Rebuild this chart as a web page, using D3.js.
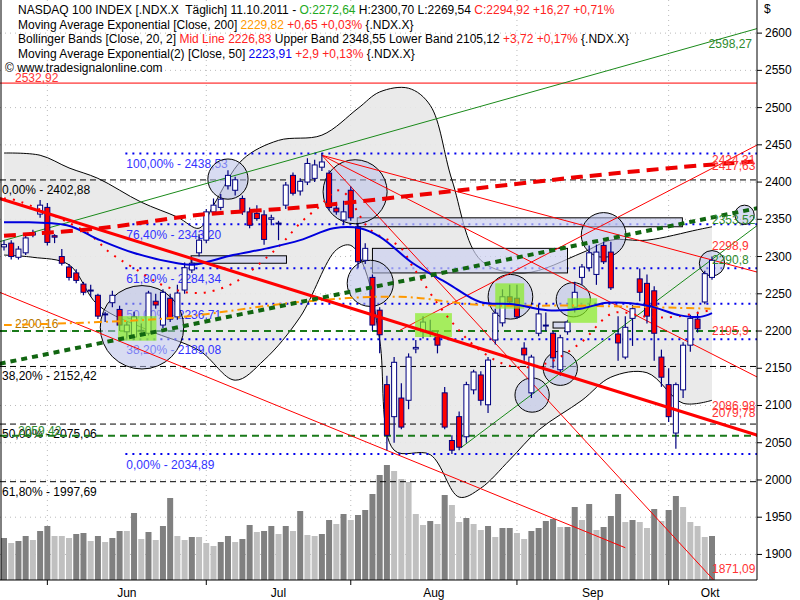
<!DOCTYPE html>
<html lang="en">
<head>
<meta charset="UTF-8">
<title>NASDAQ 100</title>
<script src="https://cdn.jsdelivr.net/npm/d3@7"></script>
<style>
  body { margin: 0; background: #fff; }
  text { font-family: "Liberation Sans", Arial, sans-serif; font-size: 12px; white-space: pre; }
</style>
</head>
<body>
<div id="chart"></div>
<script>
// daily candles, 23.05.2011 - 11.10.2011
const opens  = [2313,2318,2299,2305,2329,2357,2366,2328,2300,2286,2278,2263,2255,2248,2222,2238,2229,2199,2192,2200,2197,2240,2208,2244,2219,2255,2282,2305,2322,2360,2366,2395,2389,2378,2360,2358,2356,2350,2345,2369,2409,2388,2400,2405,2420,2412,2365,2349,2389,2340,2295,2272,2228,2128,2085,2110,2107,2176,2199,2199,2195,2117,2053,2085,2058,2121,2141,2101,2188,2211,2246,2244,2177,2117,2197,2207,2197,2148,2199,2232,2272,2285,2276,2315,2306,2196,2165,2217,2270,2264,2254,2165,2128,2063,2121,2181,2216,2239,2272];
const highs  = [2322,2322,2314,2330,2336,2376,2372,2330,2310,2290,2283,2266,2262,2250,2226,2254,2234,2212,2226,2210,2254,2250,2256,2250,2262,2292,2296,2330,2364,2378,2384,2416,2407,2382,2366,2369,2362,2356,2348,2400,2413,2405,2432,2430,2439,2416,2372,2375,2394,2344,2318,2276,2232,2140,2165,2130,2170,2188,2220,2215,2200,2125,2060,2092,2132,2148,2146,2165,2230,2256,2262,2262,2185,2168,2236,2225,2200,2195,2215,2266,2290,2315,2316,2320,2320,2220,2220,2235,2284,2276,2260,2175,2150,2131,2185,2222,2226,2281,2300];
const lows   = [2308,2296,2296,2302,2326,2352,2315,2318,2288,2268,2264,2248,2246,2216,2212,2232,2200,2190,2188,2195,2194,2230,2204,2212,2215,2250,2278,2300,2318,2356,2362,2390,2382,2356,2338,2348,2316,2342,2322,2364,2382,2382,2396,2400,2415,2362,2356,2344,2348,2285,2290,2200,2170,2040,2050,2068,2095,2170,2190,2192,2170,2068,2035,2040,2050,2115,2100,2090,2182,2206,2235,2216,2160,2110,2193,2200,2150,2140,2195,2225,2262,2280,2262,2290,2255,2160,2162,2180,2240,2210,2160,2125,2078,2042,2110,2172,2198,2236,2269];
const closes = [2316,2300,2310,2325,2332,2369,2319,2326,2291,2272,2268,2252,2254,2220,2223,2248,2208,2208,2219,2201,2251,2235,2252,2216,2251,2285,2291,2322,2360,2369,2377,2409,2403,2360,2342,2351,2323,2352,2344,2396,2385,2401,2425,2423,2427,2366,2360,2360,2352,2293,2311,2208,2195,2060,2158,2071,2165,2178,2212,2200,2181,2071,2040,2044,2128,2145,2107,2161,2224,2246,2239,2219,2168,2165,2223,2208,2164,2191,2212,2252,2286,2305,2306,2293,2258,2184,2205,2230,2252,2220,2197,2138,2085,2128,2181,2217,2203,2277,2295];
const volumes = [42,37,39,44,40,49,54,44,44,42,46,47,39,44,38,42,49,49,67,41,48,40,54,82,44,40,43,43,37,34,38,44,38,41,55,48,49,54,46,54,49,69,45,44,46,60,56,66,60,65,70,86,105,115,109,101,98,66,55,59,56,85,75,58,62,56,50,54,43,52,52,47,41,49,52,59,61,53,53,73,60,76,50,53,64,86,58,60,58,52,71,59,70,84,73,58,54,43,44];
const volumeDark = "DLDDLDDLLLDDLDLDDLDLDLDDLLDLLLDDLDDLDDLDLDLLDDLDLDDDDDLLLLLDLDLLDLLDLDDLLDDDDLDDLDLDDDLDLLDLDDLLLLD";

// months: index of first trading day
const monthNames = ["Jun", "Jul", "Aug", "Sep", "Okt"];
const monthStart = [6, 28, 48, 71, 92];
const monthEnd = 103.5;

const yTicks = [1900,1950,2000,2050,2100,2150,2200,2250,2300,2350,2400,2450,2500,2550,2600];

// indicators, read at [index, price]
const bbUpper = [[0,2439],[5,2436],[9,2419],[13,2405],[19,2373],[24,2353],[27,2338],[29,2369],[33,2430],[38,2456],[44,2463],[49,2499],[52,2521],[56,2526],[59,2503],[62,2403],[66,2295],[72,2278],[80,2305],[84,2322],[89,2322],[96,2336],[98,2340]];
const bbLower = [[0,2302],[4,2299],[9,2289],[13,2235],[20,2201],[27,2174],[32,2134],[36,2161],[41,2219],[46,2309],[48,2315],[50,2282],[52,2188],[54,2040],[59,2034],[63,1977],[66,1989],[70,2027],[74,2067],[80,2107],[84,2138],[89,2144],[94,2103],[98,2107]];
const bbMid = [[0,2378],[1.5,2376],[11.5,2332],[14.7,2305],[17.9,2285],[22.6,2259],[27.1,2251],[31.7,2264],[36.4,2299],[38.6,2319],[41,2345],[43.4,2365],[46.5,2389],[50.7,2336],[54.8,2313],[56.6,2286],[61.4,2219],[65.9,2174],[70.5,2152],[75.2,2157],[79.8,2184],[84.3,2224],[89.1,2219],[92.7,2219],[97.8,2228]];
const ema50 = [[0,2346],[8.7,2342],[13.3,2322],[17.9,2305],[24,2291],[26.2,2289],[31.7,2302],[36.4,2311],[41,2322],[45.6,2338],[49.3,2338],[52.1,2326],[56.6,2291],[61.4,2264],[65.9,2239],[70.5,2236],[75.2,2228],[79.8,2230],[83.5,2238],[89.1,2234],[93.6,2221],[96.4,2219],[98,2224]];
const ema200 = [[0,2328],[13.3,2338],[27.1,2356],[41,2366],[54.8,2380],[65.9,2392],[79.8,2407],[93.6,2420],[104.3,2428]];
const orangeLine = [[0,2208],[22.6,2217],[41,2239],[54.8,2246],[65.9,2235],[79.8,2234],[97.8,2230]];

// trend lines [[i0,v0],[i1,v1]]
const greenThick = [[-0.6,2156],[104.3,2365]];
const redThick = [[-0.6,2378],[104.3,2060]];
const greenThin = [[[-0.6,2320],[107.5,2615]], [[63.2,2043],[104.3,2342]]];
const redThin = [
  [[-0.6,2252],[86,1909]],
  [[44,2436],[98.2,1866]],
  [[44,2436],[104.3,2138]],
  [[44,2436],[104.3,2279]],
  [[54.8,2201],[104.3,2450]]
];

// horizontal levels
const fibBlue = [[2438.53,"100,00% - 2438,53"],[2343.2,"76,40% - 2343,20"],[2284.34,"61,80% - 2284,34"],[2236.71,"50,00% - 2236,71"],[2189.08,"38,20% - 2189,08"],[2034.89,"0,00% - 2034,89"]];
const fibBlack = [[2402.88,"0,00% - 2402,88"],[2152.42,"38,20% - 2152,42"],[2075.06,"50,00% - 2075,06"],[1997.69,"61,80% - 1997,69"]];
const greenLevels = [2200.16, 2059.42];
const redLevel = 2532.92;

// right-edge value labels [price, text, colour]
const edgeLabels = [[2430,"2424,31","#ff3333"],[2422,"2417,63","#ff3333"],[2349,"2353,52","#2e8b2e"],[2314,"2298,9","#ff3333"],[2295,"2290,8","#2e8b2e"],[2200,"2195,9","#ff3333"],[2099,"2086,98","#ff3333"],[2090,"2079,78","#ff3333"],[1881,"1871,09","#ff3333"]];

// annotations
const circles = [[19.1,2205,56],[31,2404,27],[48.6,2387,43],[50.7,2264,31],[70.1,2246,30],[73.1,2114,23],[77,2150,23],[78.8,2242,23],[83,2329,30],[98,2291,17],[102.5,2356,13]];
const greenBoxes = [[15.8,2220,21.1,2187],[56.9,2224,62,2192],[68,2264,72,2230],[78,2244,82.1,2211]];
const blueBoxes = [[25.9,2301,39.1,2291],[48.9,2352,93.9,2340],[51,2311,78,2278],[76,2212,78,2204]];

const W = 800, H = 600, plotR = 757, plotB = 580;
const x = d3.scaleLinear().domain([0, 98]).range([4, 712]);
const y = d3.scaleLinear().domain([1863, 2529]).range([582, 86]);
const vy = d3.scaleLinear().domain([0, 120]).range([plotB, plotB - 120]);

const svg = d3.select("#chart").append("svg").attr("width", W).attr("height", H);
svg.append("clipPath").attr("id", "clip").append("rect").attr("x", 0).attr("y", 0).attr("width", plotR).attr("height", plotB);
const g = svg.append("g").attr("clip-path", "url(#clip)");

// grid
g.selectAll(".hg").data(yTicks).join("line")
  .attr("x1", 0).attr("x2", plotR).attr("y1", d => y(d)).attr("y2", d => y(d))
  .attr("stroke", "#bbb").attr("stroke-dasharray", "1,4");
g.selectAll(".vg").data(monthStart).join("line")
  .attr("x1", d => x(d)).attr("x2", d => x(d)).attr("y1", 0).attr("y2", plotB)
  .attr("stroke", "#bbb").attr("stroke-dasharray", "1,4");

// volume
g.selectAll(".vol").data(volumes).join("rect")
  .attr("x", (d, i) => x(i) - 3).attr("width", 6)
  .attr("y", d => vy(d)).attr("height", d => plotB - vy(d))
  .attr("fill", (d, i) => volumeDark[i] === "D" ? "#808080" : "#c0c0c0");

// bollinger area
const px = d => x(d[0]), py = d => y(d[1]);
const curve = d3.curveCatmullRom;
const ln = d3.line().x(px).y(py).curve(curve);
const upperPath = ln(bbUpper);
const lowerPath = ln(bbLower.slice().reverse()).replace(/^M/, "L");
g.append("path").attr("d", upperPath + lowerPath + "Z")
  .attr("fill", "#e8e8e8").attr("opacity", 0.9);
[bbUpper, bbLower].forEach(s => g.append("path")
  .attr("d", ln(s)).attr("fill", "none").attr("stroke", "#000").attr("stroke-width", 1));

// horizontal levels
fibBlack.forEach(([v, t]) => {
  g.append("line").attr("x1", 0).attr("x2", plotR).attr("y1", y(v)).attr("y2", y(v))
    .attr("stroke", "#000").attr("stroke-dasharray", "6,4");
  g.append("text").attr("x", 2).attr("y", y(v) + 14).attr("fill", "#000").text(t);
});
fibBlue.forEach(([v, t]) => {
  g.append("line").attr("x1", x(16.8)).attr("x2", plotR).attr("y1", y(v)).attr("y2", y(v))
    .attr("stroke", "#0000ee").attr("stroke-width", 2).attr("stroke-dasharray", "2,5");
  g.append("text").attr("x", x(16.8) + 1).attr("y", y(v) + 15).attr("fill", "#3333ff").text(t);
});
greenLevels.forEach(v => g.append("line").attr("x1", 0).attr("x2", plotR).attr("y1", y(v)).attr("y2", y(v))
  .attr("stroke", "#1a7a1a").attr("stroke-width", 2).attr("stroke-dasharray", "7,5"));
g.append("text").attr("x", 15).attr("y", y(2200.16) - 3).attr("fill", "#b87800").text("2200,16");
g.append("text").attr("x", 18).attr("y", y(2059.42) - 1).attr("fill", "#2e8b2e").text("2059,42");
g.append("line").attr("x1", 0).attr("x2", plotR).attr("y1", y(redLevel)).attr("y2", y(redLevel)).attr("stroke", "#ff0000");
g.append("text").attr("x", 15).attr("y", y(redLevel) - 1).attr("fill", "#ff3333").text("2532,92");

// boxes and circles
g.selectAll(".bb").data(blueBoxes).join("rect")
  .attr("x", d => x(d[0])).attr("y", d => y(d[1]))
  .attr("width", d => x(d[2]) - x(d[0])).attr("height", d => y(d[3]) - y(d[1]))
  .attr("fill", "#ccd0f0").attr("fill-opacity", 0.7).attr("stroke", "#000");
g.selectAll(".ci").data(circles).join("circle")
  .attr("cx", d => x(d[0])).attr("cy", d => y(d[1])).attr("r", d => y(d[1] - d[2]) - y(d[1]))
  .attr("fill", "#b8bfe8").attr("fill-opacity", 0.55).attr("stroke", "#000");

// thin trend lines
const seg = (pts, color, w, dash) => g.append("line")
  .attr("x1", x(pts[0][0])).attr("y1", y(pts[0][1])).attr("x2", x(pts[1][0])).attr("y2", y(pts[1][1]))
  .attr("stroke", color).attr("stroke-width", w).attr("stroke-dasharray", dash);
greenThin.forEach(p => seg(p, "#1a8a1a", 1, null));
redThin.forEach(p => seg(p, "#ff0000", 1, null));

// candles
const candles = opens.map((o, i) => ({ i, o, h: highs[i], l: lows[i], c: closes[i] }));
const cg = g.selectAll(".cd").data(candles).join("g");
cg.append("line").attr("x1", d => x(d.i)).attr("x2", d => x(d.i))
  .attr("y1", d => y(d.h)).attr("y2", d => y(d.l)).attr("stroke", "#000080").attr("stroke-width", 1.2);
cg.append("rect").attr("x", d => x(d.i) - 2.5).attr("width", 5)
  .attr("y", d => y(Math.max(d.o, d.c))).attr("height", d => Math.max(1, Math.abs(y(d.o) - y(d.c))))
  .attr("fill", d => d.c < d.o ? "#ff0000" : "#fff").attr("stroke", "#000080").attr("stroke-width", 1);

g.selectAll(".gb").data(greenBoxes).join("rect")
  .attr("x", d => x(d[0])).attr("y", d => y(d[1]))
  .attr("width", d => x(d[2]) - x(d[0])).attr("height", d => y(d[3]) - y(d[1]))
  .attr("fill", "#88ee22").attr("fill-opacity", 0.7);

// indicator lines
g.append("path").attr("d", ln(bbMid)).attr("fill", "none").attr("stroke", "#ff0000").attr("stroke-width", 2).attr("stroke-dasharray", "2,7");
g.append("path").attr("d", ln(orangeLine)).attr("fill", "none").attr("stroke", "#ff9900").attr("stroke-width", 2).attr("stroke-dasharray", "8,4,2,4");
g.append("path").attr("d", ln(ema50)).attr("fill", "none").attr("stroke", "#0000dd").attr("stroke-width", 2);
seg(redThick, "#ff0000", 3, null);
seg(greenThick, "#116611", 4, "6,5");
g.append("path").attr("d", ln(ema200)).attr("fill", "none").attr("stroke", "#ee0000").attr("stroke-width", 4).attr("stroke-dasharray", "12,7");

// edge labels
edgeLabels.forEach(([v, t, c]) => g.append("text").attr("x", 712).attr("y", y(v) + 4).attr("fill", c).text(t));
g.append("text").attr("x", 752).attr("y", 48).attr("text-anchor", "end").attr("fill", "#2e8b2e").text("2598,27");

// frame and axes
svg.append("line").attr("x1", 1).attr("x2", 1).attr("y1", 0).attr("y2", plotB).attr("stroke", "#000");
svg.append("line").attr("x1", plotR).attr("x2", plotR).attr("y1", 0).attr("y2", plotB).attr("stroke", "#000");
svg.append("line").attr("x1", 0).attr("x2", plotR).attr("y1", plotB).attr("y2", plotB).attr("stroke", "#000");
svg.append("text").attr("x", 764).attr("y", 13).text("$");
yTicks.forEach(v => {
  svg.append("line").attr("x1", plotR).attr("x2", plotR + 5).attr("y1", y(v)).attr("y2", y(v)).attr("stroke", "#000");
  svg.append("text").attr("x", plotR + 8).attr("y", y(v) + 4).text(v);
});
monthStart.forEach((m, k) => {
  svg.append("line").attr("x1", x(m)).attr("x2", x(m)).attr("y1", plotB).attr("y2", plotB + 5).attr("stroke", "#000");
  const end = k < monthStart.length - 1 ? monthStart[k + 1] : monthEnd;
  svg.append("text").attr("x", x((m + end) / 2)).attr("y", 597).attr("text-anchor", "middle").text(monthNames[k]);
});

// header
const header = [
  [["NASDAQ 100 INDEX [.NDX.X  Täglich] 11.10.2011 - ", "#000"], ["O:2272,64", "#22aa22"], [" H:2300,70 L:2269,54 ", "#000"], ["C:2294,92 +16,27 +0,71%", "#ff2222"]],
  [["Moving Average Exponential [Close, 200] ", "#000"], ["2229,82", "#ff9900"], [" +0,65 +0,03%", "#ff2222"], [" {.NDX.X}", "#000"]],
  [["Bollinger Bands [Close, 20, 2] ", "#000"], ["Mid Line 2226,83", "#ff2222"], [" Upper Band 2348,55 Lower Band 2105,12 ", "#000"], ["+3,72 +0,17%", "#ff2222"], [" {.NDX.X}", "#000"]],
  [["Moving Average Exponential(2) [Close, 50] ", "#000"], ["2223,91", "#0000ee"], [" +2,9 +0,13%", "#ff2222"], [" {.NDX.X}", "#000"]],
  [["© www.tradesignalonline.com", "#000"]]
];
header.forEach((parts, r) => {
  const t = svg.append("text").attr("x", r === 4 ? 5 : 18).attr("y", 14 + r * 14.5).attr("font-size", "12px");
  parts.forEach(([s, c]) => t.append("tspan").attr("fill", c).text(s));
});
</script>
</body>
</html>
